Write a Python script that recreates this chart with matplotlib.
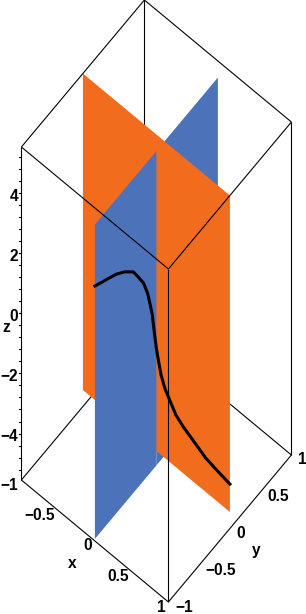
import matplotlib
matplotlib.use("Agg")
import matplotlib.pyplot as plt
import numpy as np

plt.rcParams['font.family'] = ['Liberation Sans', 'DejaVu Sans']

# Box limits
x_limits = [-1, 1]
y_limits = [-1, 1]
z_limits = [-5.55, 5.55]

# Extent in z of each plane
blue_z = [-5.48, 5.0]
orange_z = [-5.0, 5.55]

# Curve along x = t, y = t - 1
curve_t = [0, .04, .10, .16, .22, .285, .32, .36, .39, .41, .425, .44, .455, .47,
           .49, .52, .56, .60, .655, .72, .82, .915, 1.0]
curve_z = [2.95, 3.03, 3.16, 3.28, 3.33, 3.30, 3.12, 2.90, 2.55, 2.15, 1.81, 1.23, .69, .29,
           -.22, -.70, -1.15, -1.6, -2.02, -2.45, -3.12, -3.63, -4.07]

# Tick labels
x_ticks = [-1, -0.5, 0, 0.5, 1]
y_ticks = [-1, -0.5, 0, 0.5, 1]
z_ticks = [-4, -2, 0, 2, 4]
z_minor = np.arange(-5.2, 5.4, 0.4)

BLUE = "#4C72B9"
ORANGE = "#F26C1E"
FONT_SIZE = 11.2


# Orthographic projection of (x, y, z) to pixel coordinates
def project(x, y, z):
    x, y, z = np.asarray(x, float), np.asarray(y, float), np.asarray(z, float)
    return 156.4 + 73.5 * x + 61.5 * y, 467.5 + 61 * x - 73.5 * y - 30 * (z - z_limits[0])


def edge(ax, p, q, zorder):
    sx, sy = project(*zip(p, q))
    ax.plot(sx, sy, color="black", lw=0.8, zorder=zorder, solid_capstyle="butt")


def plane(ax, xs, ys, zs, color, zorder):
    sx, sy = project([xs[0], xs[1], xs[1], xs[0]], [ys[0], ys[1], ys[1], ys[0]],
                     [zs[0], zs[0], zs[1], zs[1]])
    ax.fill(sx, sy, color=color, lw=0, zorder=zorder)


def label(ax, sx, sy, s, ha="center"):
    ax.text(sx, sy, s, fontsize=FONT_SIZE, fontweight="bold", ha=ha, va="center", zorder=6)


def fmt(v):
    return str(v).replace("-", "\u2212").replace(".0", "")


fig = plt.figure(figsize=(3.06, 6.14), dpi=100)
ax = fig.add_axes([0, 0, 1, 1])
ax.set_xlim(0, 306)
ax.set_ylim(614, 0)
ax.axis("off")

zlo, zhi = z_limits

# Back of the box, hidden by the planes
edge(ax, (-1, 1, zlo), (-1, 1, zhi), 1)
edge(ax, (-1, -1, zlo), (-1, 1, zlo), 1)
edge(ax, (-1, 1, zlo), (1, 1, zlo), 1)

# Planes: far half of blue, then orange, then near half of blue
plane(ax, (0, 0), (0, 1), blue_z, BLUE, 2)
plane(ax, (-1, 1), (0, 0), orange_z, ORANGE, 3)
plane(ax, (0, 0), (-1, 0), blue_z, BLUE, 4)

t = np.array(curve_t)
sx, sy = project(t, t - 1, curve_z)
ax.plot(sx, sy, color="black", lw=2.2, zorder=4.5)

# Rest of the box
edge(ax, (-1, -1, zlo), (-1, -1, zhi), 5)
edge(ax, (1, 1, zlo), (1, 1, zhi), 5)
edge(ax, (1, -1, zlo), (1, -1, zhi), 5)
edge(ax, (-1, -1, zlo), (1, -1, zlo), 5)
edge(ax, (1, -1, zlo), (1, 1, zlo), 5)
edge(ax, (-1, -1, zhi), (1, -1, zhi), 5)
edge(ax, (1, -1, zhi), (1, 1, zhi), 5)
edge(ax, (1, 1, zhi), (-1, 1, zhi), 5)
edge(ax, (-1, 1, zhi), (-1, -1, zhi), 5)

# z ticks on the left edge
for z in z_minor:
    sx, sy = project(-1, -1, z)
    ax.plot([sx - 2, sx], [sy, sy], color="black", lw=0.8, zorder=5)
for z in z_ticks:
    sx, sy = project(-1, -1, z)
    label(ax, sx - 3, sy + 3, fmt(z), ha="right")

# x and y tick labels below the floor
for v in x_ticks:
    sx, sy = project(v, -1, zlo)
    label(ax, sx - 3, sy + 5, fmt(v), ha="right")
for v in y_ticks:
    sx, sy = project(1, v, zlo)
    label(ax, sx + 6.5, sy + 5, fmt(v), ha="left")

label(ax, 72, 564, "x")
label(ax, 256, 550, "y")
label(ax, 6, 327, "z")

fig.savefig("out.png", dpi=100)
